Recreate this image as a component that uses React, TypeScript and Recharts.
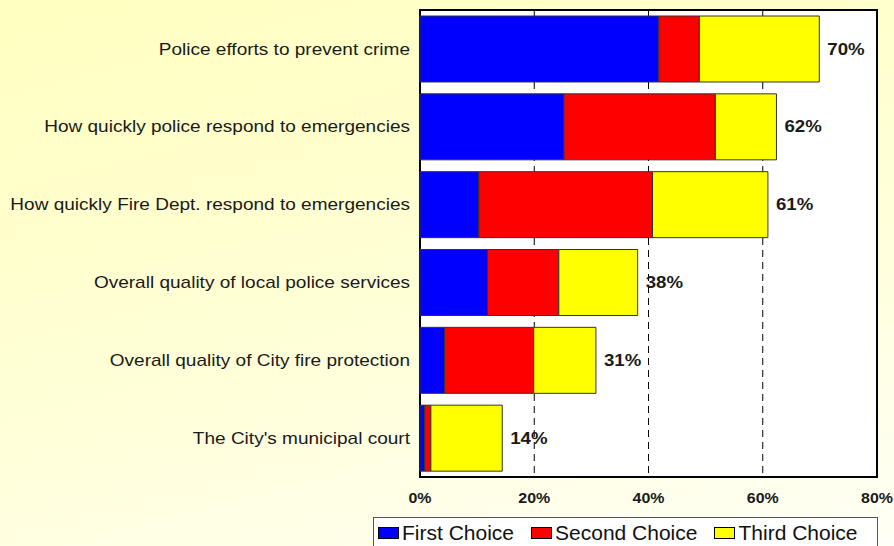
import React from "react";
import {
  BarChart,
  Bar,
  XAxis,
  YAxis,
  CartesianGrid,
  ReferenceArea,
  LabelList,
  Legend,
} from "recharts";

const categories = [
  "Police efforts to prevent crime",
  "How quickly police respond to emergencies",
  "How quickly Fire Dept. respond to emergencies",
  "Overall quality of local police services",
  "Overall quality of City fire protection",
  "The City's municipal court",
];
const firstChoice = [41.8, 25.2, 10.3, 11.8, 4.3, 0.8];
const secondChoice = [7.1, 26.5, 30.4, 12.5, 15.6, 1.1];
const thirdChoice = [21.0, 10.7, 20.2, 13.8, 10.9, 12.5];
const xTicks = [0, 20, 40, 60, 80];

const series = [
  { key: "first", name: "First Choice", color: "#0000FF" },
  { key: "second", name: "Second Choice", color: "#FF0000" },
  { key: "third", name: "Third Choice", color: "#FFFF00" },
];

const data = categories.map((name, i) => ({
  name,
  first: firstChoice[i],
  second: secondChoice[i],
  third: thirdChoice[i],
  total: Math.round(firstChoice[i] + secondChoice[i] + thirdChoice[i]),
}));

const FONT = "'Liberation Sans', Arial, Helvetica, sans-serif";

// the original text is slightly stretched sideways
function CategoryTick(props: any) {
  const { x, y, payload } = props;
  return (
    <text
      transform={`translate(${x},${y}) scale(1.12,1)`}
      textAnchor="end"
      dominantBaseline="central"
      fontFamily={FONT}
      fontSize={17}
      fill="#1a1a1a"
    >
      {payload.value}
    </text>
  );
}

function PercentTick(props: any) {
  const { x, y, payload } = props;
  return (
    <text
      transform={`translate(${x},${y + 26}) scale(1.14,1)`}
      textAnchor="middle"
      fontFamily={FONT}
      fontSize={14}
      fontWeight="bold"
      fill="#1a1a1a"
    >
      {payload.value}%
    </text>
  );
}

function TotalLabel(props: any) {
  const { x, y, width, height, value } = props;
  return (
    <text
      transform={`translate(${x + width + 8},${y + height / 2}) scale(1.13,1)`}
      dominantBaseline="central"
      fontFamily={FONT}
      fontSize={16.5}
      fontWeight="bold"
      fill="#1a1a1a"
    >
      {value}%
    </text>
  );
}

function LegendBox() {
  return (
    <div
      style={{
        boxSizing: "border-box",
        width: "100%",
        height: "100%",
        border: "1px solid #555",
        background: "#fff",
        display: "flex",
        alignItems: "center",
        paddingLeft: 4,
        paddingBottom: 10,
        fontFamily: FONT,
        fontSize: 21,
        color: "#111",
      }}
    >
      {series.map((s) => (
        <span key={s.key} style={{ display: "flex", alignItems: "center", marginRight: 17 }}>
          <span
            style={{
              display: "inline-block",
              boxSizing: "border-box",
              width: 21,
              height: 12,
              background: s.color,
              border: "1px solid #000",
              marginRight: 3,
            }}
          />
          {s.name}
        </span>
      ))}
    </div>
  );
}

export default function App() {
  return (
    <div
      style={{
        position: "absolute",
        left: 0,
        top: 0,
        width: 894,
        height: 546,
        overflow: "hidden",
        background: "linear-gradient(165deg, #FFFFC0 0%, #FFFFD8 55%, #FFFFF6 100%)",
      }}
    >
      <BarChart
        width={894}
        height={546}
        data={data}
        layout="vertical"
        margin={{ top: 10, right: 17, bottom: 39, left: 0 }}
        barCategoryGap={0}
      >
        <CartesianGrid
          horizontal={false}
          stroke="#000"
          strokeDasharray="7 5"
          fill="#fff"
        />
        <XAxis
          type="number"
          domain={[0, 80]}
          ticks={xTicks}
          axisLine={false}
          tickLine={false}
          tickSize={0}
          tickMargin={0}
          height={30}
          tick={<PercentTick />}
        />
        <YAxis
          type="category"
          dataKey="name"
          width={420}
          interval={0}
          axisLine={false}
          tickLine={false}
          tickSize={6}
          tickMargin={4}
          tick={<CategoryTick />}
        />
        {series.map((s, i) => (
          <Bar
            key={s.key}
            dataKey={s.key}
            name={s.name}
            stackId="a"
            fill={s.color}
            stroke="#333"
            strokeWidth={1}
            barSize={66}
            isAnimationActive={false}
          >
            {i === series.length - 1 && (
              <LabelList dataKey="total" content={<TotalLabel />} />
            )}
          </Bar>
        ))}
        <ReferenceArea x1={0} x2={80} fill="none" stroke="#000" strokeWidth={2} />
        <Legend
          layout="vertical"
          align="center"
          verticalAlign="middle"
          content={<LegendBox />}
          wrapperStyle={{ left: 373, top: 517, width: 505, height: 42 }}
        />
      </BarChart>
    </div>
  );
}
